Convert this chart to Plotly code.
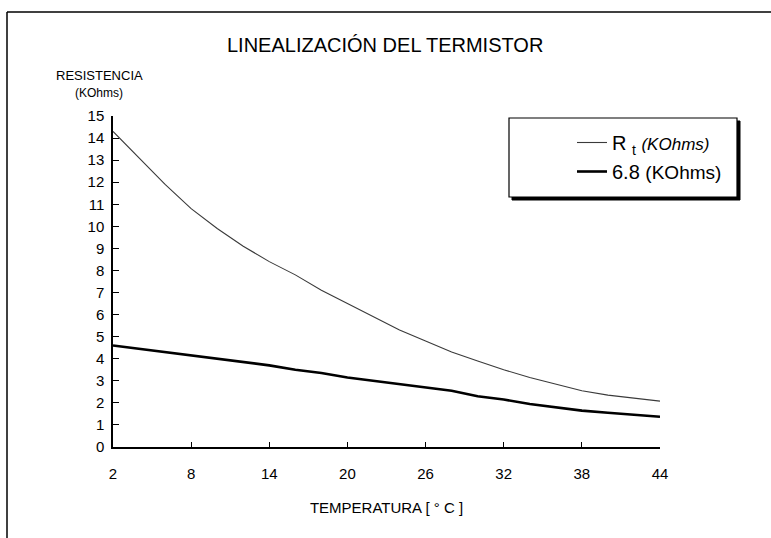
import plotly.graph_objects as go

temperatura = [2, 4, 6, 8, 10, 12, 14, 16, 18, 20, 22, 24, 26, 28, 30, 32, 34, 36, 38, 40, 42, 44]
rt_kohms = [14.3, 13.1, 11.9, 10.8, 9.9, 9.1, 8.4, 7.8, 7.1, 6.5, 5.9, 5.3, 4.8, 4.3, 3.9, 3.5,
            3.15, 2.85, 2.55, 2.35, 2.2, 2.08]
r68_kohms = [4.6, 4.45, 4.3, 4.15, 4.0, 3.85, 3.7, 3.5, 3.35, 3.15, 3.0, 2.85, 2.7, 2.55, 2.3,
             2.15, 1.95, 1.8, 1.65, 1.55, 1.45, 1.37]
x_ticks = [2, 8, 14, 20, 26, 32, 38, 44]
y_ticks = list(range(0, 16))

FONT = "Liberation Sans, Arial, sans-serif"

fig = go.Figure()
fig.add_trace(go.Scatter(
    x=temperatura, y=rt_kohms, mode="lines",
    name="R <sub>t</sub> <span style='font-size:17px'><i>(KOhms)</i></span>",
    line=dict(color="#3a3a3a", width=1.1),
))
fig.add_trace(go.Scatter(
    x=temperatura, y=r68_kohms, mode="lines",
    name="6.8 <span style='font-size:19px'>(KOhms)</span>",
    line=dict(color="black", width=2.6),
))

# plot area in pixels: x 113..660, y 116..447
L, R, T, B = 113, 660, 116, 447
W, H = 771, 538
pw, ph = R - L, B - T

def px(xp):
    return (xp - L) / pw

def py(yp):
    return (B - yp) / ph

shapes = [
    # legend shadow
    dict(type="rect", xref="paper", yref="paper", x0=px(512), x1=px(740), y0=py(200), y1=py(121),
         fillcolor="black", line=dict(color="black", width=1), layer="below"),
    # legend box
    dict(type="rect", xref="paper", yref="paper", x0=px(509), x1=px(737), y0=py(197), y1=py(118),
         fillcolor="white", line=dict(color="black", width=1.2), layer="below"),
    # outer frame (top and left)
    dict(type="line", xref="paper", yref="paper", x0=px(7), x1=px(771), y0=py(12), y1=py(12),
         line=dict(color="black", width=1.5)),
    dict(type="line", xref="paper", yref="paper", x0=px(7), x1=px(7), y0=py(12), y1=py(540),
         line=dict(color="black", width=1.5)),
]

annotations = [
    dict(text="LINEALIZACIÓN DEL TERMISTOR", xref="paper", yref="paper", x=px(385), y=py(45),
         showarrow=False, font=dict(size=20, color="black", family=FONT), xanchor="center", yanchor="middle"),
    dict(text="RESISTENCIA", xref="paper", yref="paper", x=px(99), y=py(75),
         showarrow=False, font=dict(size=13, color="black", family=FONT), xanchor="center", yanchor="middle"),
    dict(text="(KOhms)", xref="paper", yref="paper", x=px(99), y=py(93),
         showarrow=False, font=dict(size=12, color="black", family=FONT), xanchor="center", yanchor="middle"),
]

fig.update_layout(
    width=W, height=H,
    margin=dict(l=L, r=W - R, t=T, b=H - B, pad=0),
    paper_bgcolor="white", plot_bgcolor="white",
    font=dict(family=FONT, color="black", size=15),
    showlegend=True,
    legend=dict(x=px(572), y=py(123), xanchor="left", yanchor="top",
                bgcolor="rgba(0,0,0,0)", borderwidth=0,
                font=dict(size=20, family=FONT, color="black"),
                tracegroupgap=0, itemwidth=30),
    shapes=shapes,
    annotations=annotations,
    xaxis=dict(range=[2, 44], tickvals=x_ticks, ticks="inside", ticklen=5, tickcolor="black",
               showline=True, linecolor="black", linewidth=1.5, showgrid=False, zeroline=False,
               tickfont=dict(size=15, family=FONT), ticklabelstandoff=12,
               title=dict(text="TEMPERATURA [ ° C ]", font=dict(size=15, family=FONT), standoff=22)),
    yaxis=dict(range=[0, 15], tickvals=y_ticks, ticks="inside", ticklen=6, tickcolor="black",
               showline=True, linecolor="black", linewidth=1.5, showgrid=False, zeroline=False,
               tickfont=dict(size=15, family=FONT), ticklabelstandoff=4),
)

fig.write_html("out.html", config={"displayModeBar": False},
               post_script="document.body.style.margin='0px';document.body.style.padding='0px';")
